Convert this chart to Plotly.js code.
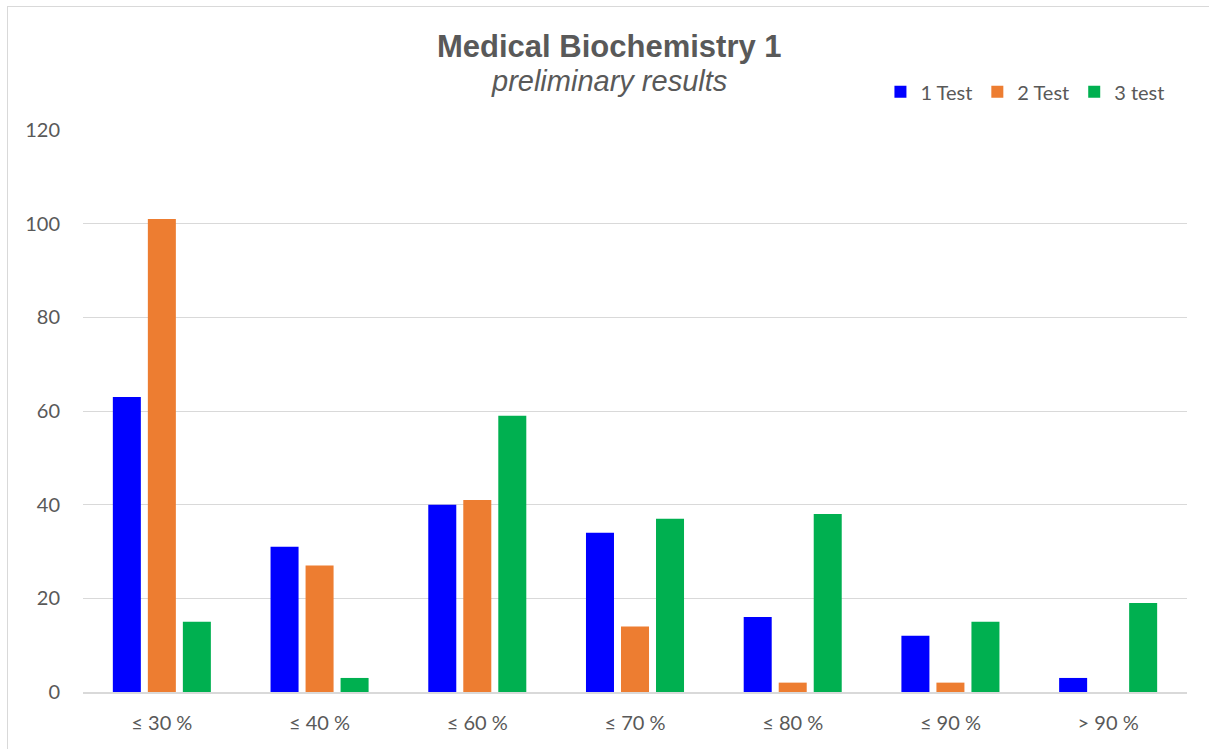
<!DOCTYPE html>
<html><head><meta charset="utf-8">
<script src="https://cdn.plot.ly/plotly-3.0.1.min.js"></script>
<style>
html,body{margin:0;padding:0;background:#fff;overflow:hidden;}
#wrap{position:relative;width:1209px;height:749px;overflow:hidden;}
#frame{position:absolute;left:7px;top:6px;width:1240px;height:780px;border:1px solid #d9d9d9;pointer-events:none;}
#chart{position:absolute;left:0;top:0;width:1209px;height:749px;}
</style></head>
<body><div id="wrap"><div id="chart"></div><div id="frame"></div></div>
<script>
const categories = ["≤ 30 %","≤ 40 %","≤ 60 %","≤ 70 %","≤ 80 %","≤ 90 %","> 90 %"];
const test1 = [63,31,40,34,16,12,3];
const test2 = [101,27,41,14,2,2,0];
const test3 = [15,3,59,37,38,15,19];
const seriesNames = ["1 Test","2 Test","3 test"];
const colors = ["#0000ff","#ed7d31","#00b050"];
const yTicks = [0,20,40,60,80,100,120];

const data = [test1,test2,test3].map((v,i)=>({
  type:'bar', x:categories, y:v, name:seriesNames[i],
  marker:{color:colors[i]}, hoverinfo:'x+y+name'
}));
const tickFont = {size:20, color:'#595959', family:'Lato, "Open Sans", sans-serif'};
const layout = {
  width:1209, height:749,
  margin:{l:83,r:22,t:130,b:57},
  paper_bgcolor:'#ffffff', plot_bgcolor:'#ffffff',
  barmode:'group', bargap:0.334, bargroupgap:0.2,
  font:{family:'Lato, "Open Sans", sans-serif', color:'#595959', size:19},
  xaxis:{type:'category', showgrid:false, showline:true, linecolor:'#d9d9d9', linewidth:2,
         ticks:'', ticklabelstandoff:12, tickfont:tickFont},
  yaxis:{range:[0,120], tickvals:yTicks, showgrid:true, gridcolor:'#d9d9d9', gridwidth:1,
         zeroline:false, showline:false, ticks:'', ticklabelstandoff:22, tickfont:tickFont},
  showlegend:true,
  legend:{orientation:'h', x:0.985, xanchor:'right', y:1.068, yanchor:'middle',
          font:{size:20,color:'#595959', family:'Lato, "Open Sans", sans-serif'}, itemwidth:30, traceorder:'normal'},
  annotations:[
    {text:'<b>Medical Biochemistry 1</b>', xref:'paper', yref:'paper', x:0.4765, y:1.149, yanchor:'middle',
     showarrow:false, font:{family:'"Liberation Sans", Arial, sans-serif', size:31, color:'#595959'}},
    {text:'<i>preliminary results</i>', xref:'paper', yref:'paper', x:0.4765, y:1.087, yanchor:'middle',
     showarrow:false, font:{family:'"Liberation Sans", Arial, sans-serif', size:29, color:'#595959'}}
  ]
};
Plotly.newPlot('chart', data, layout, {displayModeBar:false, staticPlot:true});
</script></body></html>
